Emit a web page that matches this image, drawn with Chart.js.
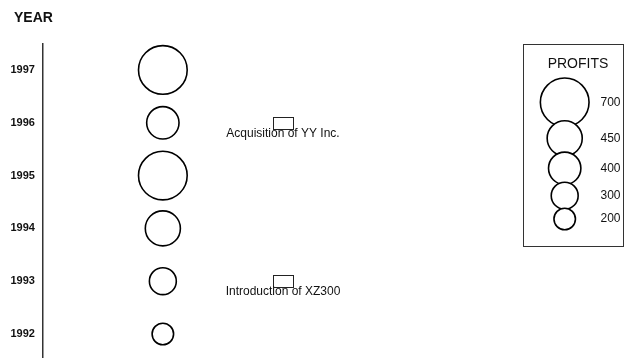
<!DOCTYPE html>
<html>
<head>
<meta charset="utf-8">
<title>Profits by year</title>
<script src="https://cdn.jsdelivr.net/npm/chart.js@4.4.1/dist/chart.umd.min.js"></script>
<style>
  body { margin: 0; background: #fff; }
  #wrap { width: 624px; height: 358px; }
</style>
</head>
<body>
<div id="wrap"><canvas id="grafico" width="624" height="358"></canvas></div>
<script>
// datos
const years = [1992, 1993, 1994, 1995, 1996, 1997];
const profits = [200, 300, 450, 700, 400, 700];

// eventos marcados en la linea de tiempo
const eventYears = [1996, 1993];
const eventLabels = ["Acquisition of YY Inc.", "Introduction of XZ300"];

// valores de la leyenda
const legendProfits = [700, 450, 400, 300, 200];

const FONT = "'Liberation Sans', Arial, sans-serif";
const BUBBLE_X = 0.207;
const EVENT_X = 0.414;

// tamaño del circulo segun la ganancia
function radio(v) {
    return 5.3 + 0.0272 * v;
}

// titulo del eje, cajas y textos de los eventos
const eventosPlugin = {
    id: "eventos",
    afterDatasetsDraw(chart) {
        const ctx = chart.ctx;
        const xs = chart.scales.x;
        const ys = chart.scales.y;
        ctx.save();
        ctx.fillStyle = "#111";
        ctx.font = "bold 14px " + FONT;
        ctx.textAlign = "left";
        ctx.textBaseline = "middle";
        ctx.fillText("YEAR", 14, 18);

        ctx.strokeStyle = "#222";
        ctx.lineWidth = 1;
        ctx.font = "12px " + FONT;
        ctx.textAlign = "center";
        ctx.textBaseline = "top";
        eventYears.forEach((y, i) => {
            const px = Math.round(xs.getPixelForValue(EVENT_X));
            const py = Math.round(ys.getPixelForValue(y));
            ctx.strokeRect(px - 10 + 0.5, py - 6 + 0.5, 20, 12);
            ctx.fillText(eventLabels[i], px, py + 5);
        });
        ctx.restore();
    }
};

// leyenda de tamaños dibujada a mano
const leyendaPlugin = {
    id: "leyendaTamanos",
    afterDraw(chart) {
        const ctx = chart.ctx;
        const offsets = [102.3, 138.3, 168.3, 195.7, 219];
        ctx.save();
        ctx.strokeStyle = "#333";
        ctx.lineWidth = 1;
        ctx.strokeRect(523.5, 44.5, 100, 202);

        ctx.fillStyle = "#111";
        ctx.font = "14px " + FONT;
        ctx.textAlign = "center";
        ctx.textBaseline = "middle";
        ctx.fillText("PROFITS", 578, 64);

        ctx.font = "12px " + FONT;
        ctx.textAlign = "left";
        ctx.strokeStyle = "#000";
        ctx.lineWidth = 1.6;
        legendProfits.forEach((v, i) => {
            ctx.beginPath();
            ctx.arc(564.7, offsets[i], radio(v), 0, Math.PI * 2);
            ctx.fillStyle = "#fff";
            ctx.fill();
            ctx.stroke();
            ctx.fillStyle = "#111";
            ctx.fillText(String(v), 600.5, offsets[i]);
        });
        ctx.restore();
    }
};

const ctx = document.querySelector("#grafico").getContext("2d");

const config = {
    type: "bubble",
    data: {
        datasets: [
            {
                label: "Profits",
                data: years.map((y, i) => ({ x: BUBBLE_X, y: y, r: radio(profits[i]) })),
                backgroundColor: "rgba(255,255,255,0)",
                borderColor: "#000",
                borderWidth: 1.6,
            },
        ],
    },
    options: {
        responsive: false,
        animation: false,
        layout: {
            autoPadding: false,
            padding: { left: 3, right: 0, top: 44, bottom: 0 },
        },
        plugins: {
            legend: { display: false },
            tooltip: { enabled: false },
            title: { display: false },
        },
        scales: {
            x: {
                type: "linear",
                display: false,
                min: 0,
                max: 1,
            },
            y: {
                type: "linear",
                min: 1991.545,
                max: 1997.492,
                grid: { display: false, drawTicks: false },
                border: { display: true, color: "#333", width: 1.5 },
                afterBuildTicks(scale) {
                    scale.ticks = years.map(v => ({ value: v }));
                },
                afterFit(scale) {
                    scale.paddingTop = 0;
                    scale.paddingBottom = 0;
                },
                ticks: {
                    color: "#111",
                    padding: 7.5,
                    font: { family: FONT, size: 11, weight: "bold" },
                    callback: v => String(v),
                },
            },
        },
    },
    plugins: [eventosPlugin, leyendaPlugin],
};

const grafico = new Chart(ctx, config);
</script>
</body>
</html>
